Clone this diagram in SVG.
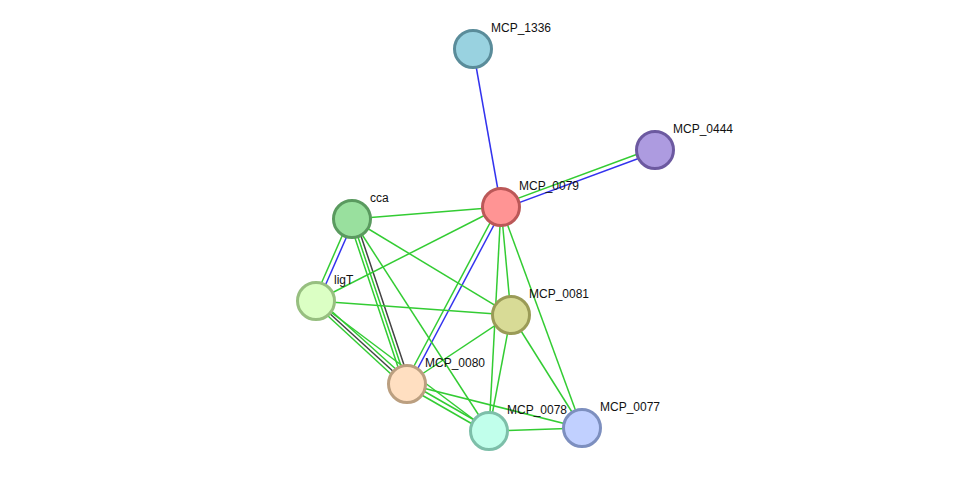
<svg xmlns="http://www.w3.org/2000/svg" width="975" height="477" viewBox="0 0 975 477">
<style>
.g{stroke:#33cc33;stroke-width:1.5;fill:none}
.b{stroke:#3333ee;stroke-width:1.5;fill:none}
.k{stroke:#444;stroke-width:1.5;fill:none}
circle{stroke-width:3}
text{font-family:"Liberation Sans",Arial,sans-serif;font-size:12px;fill:#111}
</style>
<rect width="975" height="477" fill="#fff"/>
<g id="connectors">
<line class="b" x1="473" y1="49" x2="501" y2="207"/>
<line class="g" x1="654" y1="148" x2="500" y2="205"/>
<line class="b" x1="656" y1="152" x2="502" y2="209"/>
<line class="g" x1="350" y1="218" x2="314" y2="300"/>
<line class="b" x1="354" y1="220" x2="318" y2="302"/>
<line class="g" x1="349" y1="220" x2="404" y2="385"/>
<line class="g" x1="352" y1="219" x2="407" y2="384"/>
<line class="k" x1="355" y1="218" x2="410" y2="383"/>
<line class="g" x1="317" y1="298" x2="409" y2="381"/>
<line class="k" x1="316" y1="301" x2="407" y2="384"/>
<line class="g" x1="315" y1="304" x2="405" y2="387"/>
<line class="b" x1="503" y1="208" x2="409" y2="385"/>
<line class="g" x1="499" y1="206" x2="405" y2="383"/>
<line class="g" x1="352" y1="219" x2="501" y2="207"/>
<line class="g" x1="352" y1="219" x2="511" y2="315"/>
<line class="g" x1="352" y1="219" x2="489" y2="431"/>
<line class="g" x1="316" y1="301" x2="501" y2="207"/>
<line class="g" x1="316" y1="301" x2="511" y2="315"/>
<line class="g" x1="316" y1="301" x2="489" y2="431"/>
<line class="g" x1="501" y1="207" x2="511" y2="315"/>
<line class="g" x1="501" y1="207" x2="489" y2="431"/>
<line class="g" x1="501" y1="207" x2="582" y2="428"/>
<line class="g" x1="511" y1="315" x2="407" y2="384"/>
<line class="g" x1="511" y1="315" x2="489" y2="431"/>
<line class="g" x1="511" y1="315" x2="582" y2="428"/>
<line class="g" x1="408" y1="382" x2="490" y2="429"/>
<line class="g" x1="406" y1="386" x2="488" y2="433"/>
<line class="g" x1="407" y1="384" x2="582" y2="428"/>
<line class="g" x1="489" y1="431" x2="582" y2="428"/>
</g>
<g id="MCP_1336"><circle cx="473" cy="49" r="18.5" fill="#99d2e0" stroke="#5a8c9a"/><text x="491" y="32">MCP_1336</text></g>
<g id="MCP_0444"><circle cx="655" cy="150" r="18.5" fill="#ad9be0" stroke="#6c59a0"/><text x="673" y="133">MCP_0444</text></g>
<g id="MCP_0079"><circle cx="501" cy="207" r="18.5" fill="#ff9494" stroke="#bb5858"/><text x="519" y="190">MCP_0079</text></g>
<g id="cca"><circle cx="352" cy="219" r="18.5" fill="#99e09e" stroke="#5a9a5f"/><text x="370" y="202">cca</text></g>
<g id="ligT"><circle cx="316" cy="301" r="18.5" fill="#dbffc4" stroke="#97bf80"/><text x="334" y="284">ligT</text></g>
<g id="MCP_0081"><circle cx="511" cy="315" r="18.5" fill="#d8db96" stroke="#9a9b57"/><text x="529" y="298">MCP_0081</text></g>
<g id="MCP_0080"><circle cx="407" cy="384" r="18.5" fill="#ffdfc1" stroke="#bb9f80"/><text x="425" y="367">MCP_0080</text></g>
<g id="MCP_0078"><circle cx="489" cy="431" r="18.5" fill="#c1ffeb" stroke="#7dbfa9"/><text x="507" y="414">MCP_0078</text></g>
<g id="MCP_0077"><circle cx="582" cy="428" r="18.5" fill="#c1d0ff" stroke="#7d8fbf"/><text x="600" y="411">MCP_0077</text></g>
</svg>
